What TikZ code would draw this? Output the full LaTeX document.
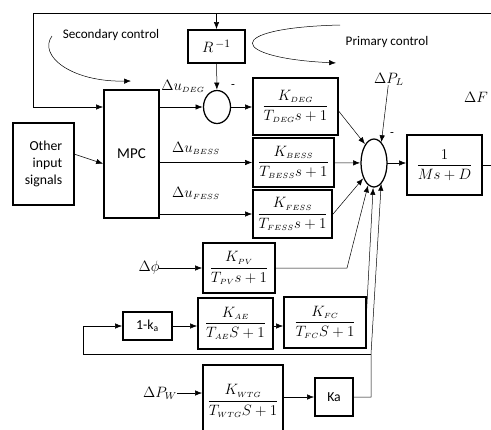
\documentclass[tikz,border=0pt]{standalone}
\usepackage{amsmath}
\usepackage{fontspec}
\setmainfont{Carlito}
\usetikzlibrary{shapes.geometric,arrows.meta}

\begin{document}
\begin{tikzpicture}[x=0.8pt,y=-0.8pt]
\tikzset{ >={Latex[length=6.5pt,width=5pt]}, inner sep=0pt, outer sep=0pt, line width=0.8pt,
  blk/.style={draw, line width=1pt, rectangle, align=center},
  sumj/.style={draw, line width=1pt, ellipse},
  frac/.style={font=\fontsize{12.5}{15}\selectfont},
  lbl/.style={font=\fontsize{12}{14}\selectfont},
}
\useasboundingbox (0,0) rectangle (491,429);
\clip (0,0) rectangle (491,429);

%\draw [lightgray, dashed](0,0) grid[step=10] (491,429);

\node [blk, minimum width=48.8pt, minimum height=65.6pt, align=right, font=\fontsize{11}{13.6}\selectfont] (OIS) at (43.5,164) {Other\\input\\signals};
\node [blk, minimum width=44pt, minimum height=102.4pt, font=\fontsize{12}{14}\selectfont] (MPC) at (131.5,154) {MPC};
\node [blk, minimum width=45.6pt, minimum height=26.4pt, frac] (R) at (216.5,46.5) {$R^{\,-1}$};
\node [sumj, minimum width=21.6pt, minimum height=26.4pt] (SD) at (217,107) {};

\node [blk, minimum width=68pt, minimum height=45.6pt, frac] (DEG) at (295.5,106.5) {$\dfrac{K_{\scriptscriptstyle DEG}}{T_{\scriptscriptstyle DEG}s+1}$};
\node [blk, minimum width=64.8pt, minimum height=39.2pt, frac] (BESS) at (293.5,162.5) {$\dfrac{K_{\scriptscriptstyle BESS}}{T_{\scriptscriptstyle BESS}s+1}$};
\node [blk, minimum width=63.2pt, minimum height=38.4pt, frac] (FESS) at (292.5,214) {$\dfrac{K_{\scriptscriptstyle FESS}}{T_{\scriptscriptstyle FESS}s+1}$};

\node [sumj, minimum width=20.8pt, minimum height=38.4pt] (S) at (374,163) {};
\node [blk, minimum width=60pt, minimum height=48pt, frac] (P) at (444.5,165) {$\dfrac{1}{Ms+D}$};

\node [blk, minimum width=57.6pt, minimum height=40pt, frac] (PV) at (239,268) {$\dfrac{K_{\scriptscriptstyle PV}}{T_{\scriptscriptstyle PV}s+1}$};
\node [blk, minimum width=39.2pt, minimum height=22.4pt, font=\fontsize{11}{13}\selectfont] (KA1) at (147.5,326) {1-k\textsubscript{a}};
\node [blk, minimum width=60pt, minimum height=40.8pt, frac] (AE) at (235.5,323.5) {$\dfrac{K_{\scriptscriptstyle AE}}{T_{\scriptscriptstyle AE}S+1}$};
\node [blk, minimum width=65.6pt, minimum height=40.8pt, frac] (FC) at (325,322.5) {$\dfrac{K_{\scriptscriptstyle FC}}{T_{\scriptscriptstyle FC}S+1}$};
\node [blk, minimum width=64pt, minimum height=57.6pt, frac] (WTG) at (243,401) {$\dfrac{K_{\scriptscriptstyle WTG}}{T_{\scriptscriptstyle WTG}S+1}$};
\node [blk, minimum width=30.4pt, minimum height=30.4pt, font=\fontsize{11}{13}\selectfont] (KA) at (334,397) {Ka};

\node [lbl] (DPHI) at (149,268) {$\Delta\phi$};
\node [lbl] (DPW) at (160,393) {$\Delta P_{W}$};
\node [lbl] (DPL) at (389,79) {$\Delta P_{L}$};
\node [lbl] at (183,86) {$\Delta u_{\scriptscriptstyle DEG}$};
\node [lbl] at (196,148) {$\Delta u_{\scriptscriptstyle BESS}$};
\node [lbl] at (196,193) {$\Delta u_{\scriptscriptstyle FESS}$};
\node [lbl] at (476,97) {$\Delta F$};
\node at (233,87) {-};
\node at (392,135) {-};

\coordinate (FT) at (491,13);

\draw [->] (FT) -- (33,13) |- (MPC.west |- SD);
\draw [->] (R.north |- FT) -- (R.north);
\draw [->] (R) -- (SD);
\draw [->] (OIS.east |- MPC) -- (MPC.west |- OIS.east);
\draw [->] (MPC.east |- SD) -- (SD);
\draw [->] (SD) -- (DEG.west |- SD);
\draw [->] (MPC.east |- BESS) -- (BESS);
\draw [->] (MPC.east |- FESS) -- (FESS);

\draw [->] ([yshift=-3pt]DEG.east) -- (S.115);
\draw [->] (BESS) -- (S);
\draw [->] ([yshift=-1pt]FESS.east) -- (S.235);
\draw [->] (DPL) -- (S.70);
\draw [->] (S) -- (P.west |- S);
\draw (P.east) -- (491,165);

\draw [->] (DPHI) -- (PV);
\draw [->] (PV.east) -- ++(72,0) -- (S.255);
\draw [->] (KA1) -- (AE.west |- KA1);
\draw [->] (AE.east |- KA1) -- (FC.west |- KA1);
\draw [->] (FC.east) -- (S.268);
\draw [->] (DPW) -- (WTG.west |- DPW);
\draw [->] (WTG.east |- KA) -- (KA);
\draw [->] (KA.east) -- ++(18,0) -- ++(0,-43) coordinate (K2) -- (S.290);
\draw [->] (K2) -- (83,354) |- (KA1);

\draw [->] (52,36) .. controls (38,55) and (70,82) .. (132,81);
\node [font=\fontsize{10.5}{12}\selectfont] at (111,35) {Secondary control};
\draw [->] (340,25) .. controls (220,28) and (230,58) .. (337,63);
\node [font=\fontsize{10.5}{12}\selectfont] at (387,42) {Primary control};
\end{tikzpicture}
\end{document}
